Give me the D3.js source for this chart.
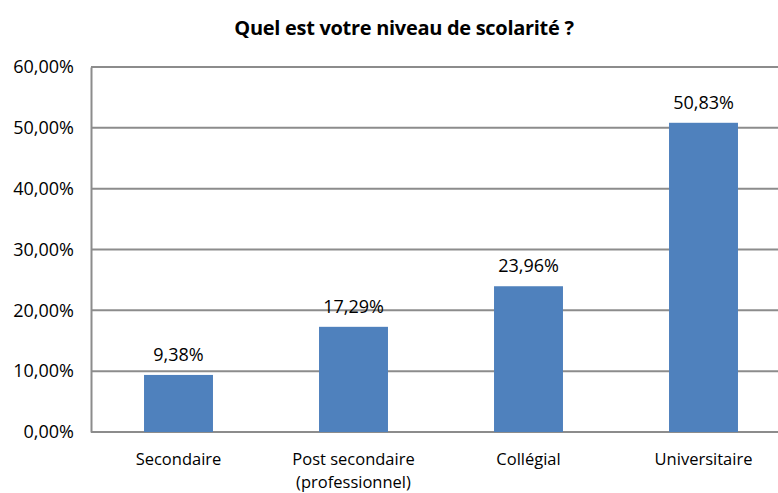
<!DOCTYPE html>
<html>
<head>
<meta charset="utf-8">
<script src="https://cdn.jsdelivr.net/npm/d3@7"></script>
<style>
  body { margin: 0; background: #fff; }
  svg text { font-family: "Open Sans", sans-serif; fill: #000; }
</style>
</head>
<body>
<div id="chart"></div>
<script>
const categories = ["Secondaire", "Post secondaire\n(professionnel)", "Collégial", "Universitaire"];
const values = [9.38, 17.29, 23.96, 50.83];
const yTicks = [0, 10, 20, 30, 40, 50, 60];

const width = 778, height = 493;
const margin = {top: 67, right: -13, bottom: 61, left: 91};

const svg = d3.select("#chart").append("svg")
    .attr("width", width)
    .attr("height", height);

const fmt = v => d3.format(".2f")(v).replace(".", ",") + "%";

const x = d3.scaleBand()
    .domain(categories)
    .range([margin.left, width - margin.right])
    .paddingInner(0.606)
    .paddingOuter(0.303);

const y = d3.scaleLinear()
    .domain([0, 60])
    .range([height - margin.bottom, margin.top]);

// title
svg.append("text")
    .attr("x", 404)
    .attr("y", 35)
    .attr("text-anchor", "middle")
    .style("font-weight", "bold")
    .style("font-size", "20px")
    .style("letter-spacing", "-0.3px")
    .text("Quel est votre niveau de scolarité ?");

// gridlines
svg.append("g")
  .selectAll("line")
  .data(yTicks)
  .join("line")
    .attr("x1", margin.left)
    .attr("x2", width)
    .attr("y1", d => y(d))
    .attr("y2", d => y(d))
    .attr("stroke", "#8c8c8c")
    .attr("stroke-width", 2);

// y axis
const yAxis = svg.append("g")
    .attr("transform", `translate(${margin.left},0)`)
    .call(d3.axisLeft(y).tickValues(yTicks).tickSize(0).tickPadding(17).tickFormat(fmt));
yAxis.select(".domain").attr("stroke", "#8c8c8c").attr("stroke-width", 2);
yAxis.selectAll("text").style("font-size", "18px").style("font-family", "'Open Sans', sans-serif");

// bars
svg.append("g")
  .selectAll("rect")
  .data(values)
  .join("rect")
    .attr("x", (d, i) => x(categories[i]))
    .attr("y", d => y(d))
    .attr("width", x.bandwidth())
    .attr("height", d => y(0) - y(d))
    .attr("fill", "#4f81bd");

// value labels
svg.append("g")
  .selectAll("text")
  .data(values)
  .join("text")
    .attr("x", (d, i) => x(categories[i]) + x.bandwidth() / 2)
    .attr("y", d => y(d) - 14)
    .attr("text-anchor", "middle")
    .style("font-size", "18px")
    .text(fmt);

// category labels, one text per line
const catLines = [];
categories.forEach(c => c.split("\n").forEach((line, j) => catLines.push({c, line, j})));
svg.append("g")
  .selectAll("text")
  .data(catLines)
  .join("text")
    .attr("x", d => x(d.c) + x.bandwidth() / 2)
    .attr("y", d => 465 + d.j * 23)
    .attr("text-anchor", "middle")
    .style("font-size", "16.5px")
    .text(d => d.line);
</script>
</body>
</html>
